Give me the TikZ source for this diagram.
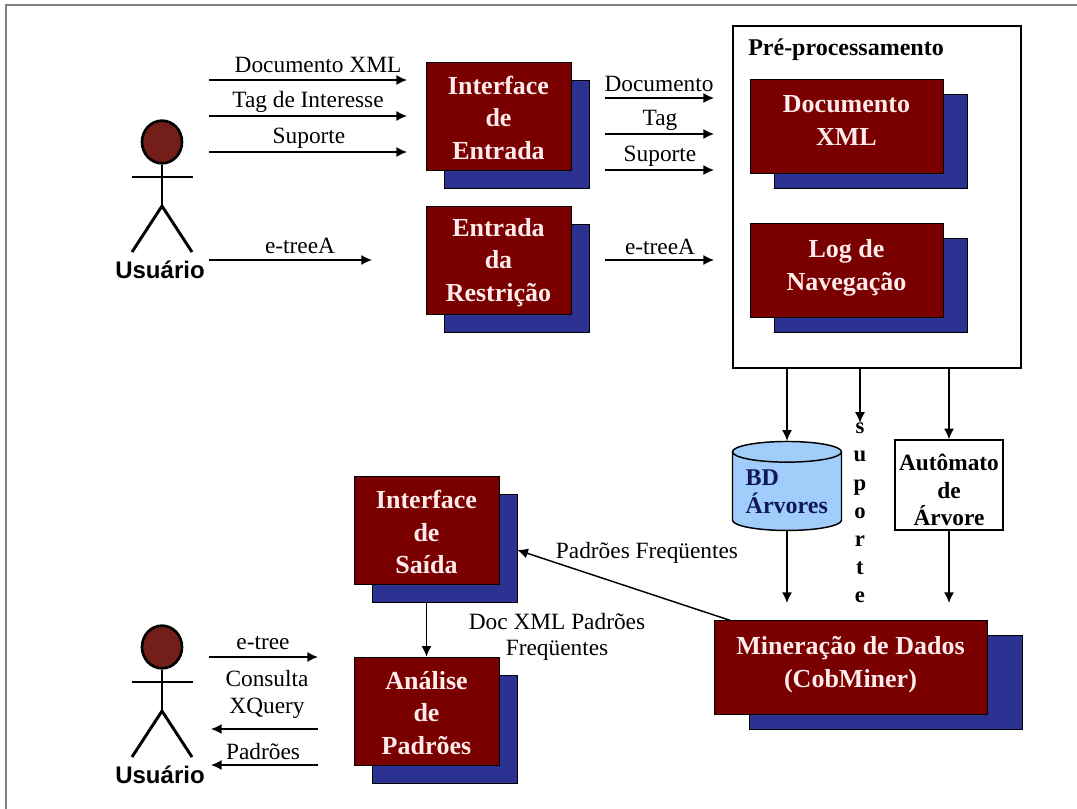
\documentclass[tikz,border=0pt]{standalone}
\usepackage{fontspec}
\setmainfont{Liberation Serif}
\setsansfont{Liberation Sans}
\usetikzlibrary{shapes,arrows,arrows.meta,shadows}
\definecolor{darkred}{RGB}{122,0,0}
\definecolor{darkblue}{RGB}{44,50,145}
\definecolor{headred}{RGB}{115,30,25}
\definecolor{dbblue}{RGB}{160,205,250}
\definecolor{navy}{RGB}{15,25,90}
\tikzstyle{base} = [rectangle, draw=black, fill=darkred, text=red!8!white, align=center, font=\fontsize{19.5}{24.4}\selectfont\bfseries, inner sep=0pt]
\tikzstyle{block} = [base, minimum width=108.75pt, minimum height=81pt, text height=65pt, copy shadow={fill=darkblue, draw=black, shadow xshift=13.5pt, shadow yshift=-13.5pt}]
\tikzstyle{wide} = [base, minimum width=144.75pt, minimum height=70.5pt, text depth=8pt, copy shadow={fill=darkblue, draw=black, shadow xshift=18pt, shadow yshift=-11.25pt}]
\tikzstyle{widest} = [base, minimum width=204.75pt, minimum height=70.5pt, text depth=8pt, copy shadow={fill=darkblue, draw=black, shadow xshift=26.25pt, shadow yshift=-11.25pt}]
\tikzstyle{line} = [draw, line width=1.1pt, -{Latex[length=8pt,width=7.5pt]}]
\tikzstyle{flowtext} = [inner sep=0pt, font=\fontsize{17.5}{19.5}\selectfont]
\tikzstyle{boldtext} = [inner sep=0pt, font=\fontsize{17.5}{20.6}\selectfont\bfseries]
\tikzstyle{head} = [ellipse, draw=black, line width=2pt, fill=headred, minimum width=30pt, minimum height=32pt, inner sep=0pt]
\tikzstyle{limb} = [draw, line width=2.2pt]
\tikzstyle{actorname} = [inner sep=0pt, font=\sffamily\bfseries\fontsize{18}{20}\selectfont]

\begin{document}
\begin{tikzpicture}[x=0.75pt, y=-0.75pt, auto]
	\useasboundingbox (0,0) rectangle (1077,809);
	\draw [gray, line width=1.2pt] (1077,5) -- (6,5) -- (6,809);
	% top actor
	\node [head] (head1) at (162,142) {};
	\node [actorname] (user1) at (160,270) {Usuário};
	\coordinate (hip1) at (162,206);
	\path [limb] (head1) -- (hip1);
	\path [limb] (132,177) coordinate (armL1) -- (193,177) coordinate (armR1);
	\path [limb] (hip1) -- (132,252) coordinate (legL1);
	\path [limb] (hip1) -- (192,252) coordinate (legR1);
	% bottom actor
	\node [head] (head2) at (162,647) {};
	\node [actorname] (user2) at (160,775) {Usuário};
	\coordinate (hip2) at (162,711);
	\path [limb] (head2) -- (hip2);
	\path [limb] (132,682) coordinate (armL2) -- (193,682) coordinate (armR2);
	\path [limb] (hip2) -- (132,757) coordinate (legL2);
	\path [limb] (hip2) -- (192,757) coordinate (legR2);
	% input
	\node [block] (entrada) at (498.5,116) {Interface\\de\\Entrada};
	\node [block] (restricao) at (498.5,260.5) {Entrada\\da\\Restrição};
	\node [draw=black, line width=1.1pt, minimum width=216pt, minimum height=256.5pt, inner sep=0pt] (pre) at (877,197) {};
	\node [boldtext, font=\fontsize{18}{20}\selectfont\bfseries, anchor=west] (pretitle) at (748,50) {Pré-processamento};
	\node [wide] (doc) at (846.5,126) {Documento\\XML};
	\node [wide] (log) at (846.5,270.5) {Log de\\Navegação};
	% output
	\node [block] (saida) at (426.5,530.5) {Interface\\de\\Saída};
	\node [block] (analise) at (426.5,711) {Análise\\de\\Padrões};
	\node [widest] (miner) at (850.5,667.5) {Mineração de Dados\\(CobMiner)};
	% database
	\node [cylinder, shape border rotate=90, aspect=0.25, draw=black, line width=1.1pt, fill=dbblue, minimum width=81.75pt, minimum height=66.75pt, inner sep=0pt, text width=62pt, align=left, text=navy, font=\fontsize{18}{21}\selectfont\bfseries] (bd) at (787,491.5) {BD\\Árvores};
	\node [boldtext, draw=black, line width=1.1pt, minimum width=81pt, minimum height=67.5pt, text height=61pt, align=center] (automato) at (949,485) {Autômato\\de\\Árvore};
	\node [inner sep=0pt, align=center, font=\fontsize{17}{21.1}\selectfont\bfseries] (suporte) at (860,513) {s\\u\\p\\o\\r\\t\\e};
	% free ends
	\coordinate (a1) at (209,80);
	\coordinate (a2) at (407,80);
	\coordinate (b1) at (209,116);
	\coordinate (b2) at (407,116);
	\coordinate (c1) at (209,152);
	\coordinate (c2) at (407,152);
	\coordinate (d1) at (209,260);
	\coordinate (d2) at (372,260);
	\coordinate (e1) at (605,98);
	\coordinate (e2) at (714,98);
	\coordinate (f1) at (605,134);
	\coordinate (f2) at (714,134);
	\coordinate (g1) at (605,170);
	\coordinate (g2) at (714,170);
	\coordinate (h1) at (605,260);
	\coordinate (h2) at (714,260);
	\coordinate (i1) at (209,657);
	\coordinate (i2) at (318,657);
	\coordinate (j1) at (318,729);
	\coordinate (j2) at (211,729);
	\coordinate (k1) at (318,765);
	\coordinate (k2) at (211,765);
	\coordinate (m2) at (787,603);
	\coordinate (n2) at (949,603);
	\path [line] (a1) -> (a2);
	\path [line] (b1) -> (b2);
	\path [line] (c1) -> (c2);
	\path [line] (d1) -> (d2);
	\path [line] (e1) -> (e2);
	\path [line] (f1) -> (f2);
	\path [line] (g1) -> (g2);
	\path [line] (h1) -> (h2);
	\path [line] (i1) -> (i2);
	\path [line] (j1) -> (j2);
	\path [line] (k1) -> (k2);
	\path [line] (bd.south) -> (m2);
	\path [line] (automato.south) -> (n2);
	\path [line] (pre.south -| bd.north) -> (bd.north);
	\path [line] (pre.south -| suporte.north) -> (suporte.north);
	\path [line] (pre.south -| automato.north) -> (automato.north);
	\path [line] ([yshift=-13.5pt]saida.south) -> (analise.north);
	\path [line] ([xshift=12pt]miner.north west) -> ([xshift=13.5pt, yshift=-14.6pt]saida.east);
	% arrow labels
	\node [flowtext] (txtdoc) at (318,65) {Documento XML};
	\node [flowtext] (txttag) at (308,102) {Tag de Interesse};
	\node [flowtext] (txtsup) at (309,138) {Suporte};
	\node [flowtext] (txttree) at (300,246) {e-treeA};
	\node [flowtext] (txtdoc2) at (659,84) {Documento};
	\node [flowtext] (txttag2) at (660,120) {Tag};
	\node [flowtext] (txtsup2) at (660,156) {Suporte};
	\node [flowtext] (txttree2) at (660,247) {e-treeA};
	\node [flowtext] (txtetree) at (263,643) {e-tree};
	\node [flowtext] (txtcons) at (267,679) {Consulta};
	\node [flowtext] (txtxq) at (267,708) {XQuery};
	\node [flowtext] (txtpad) at (263,752) {Padrões};
	\node [flowtext] (txtfreq) at (647,553) {Padrões Freqüentes};
	\node [flowtext, align=center] (txtxml) at (557,637) {Doc XML Padrões\\Freqüentes};
\end{tikzpicture}
\end{document}
